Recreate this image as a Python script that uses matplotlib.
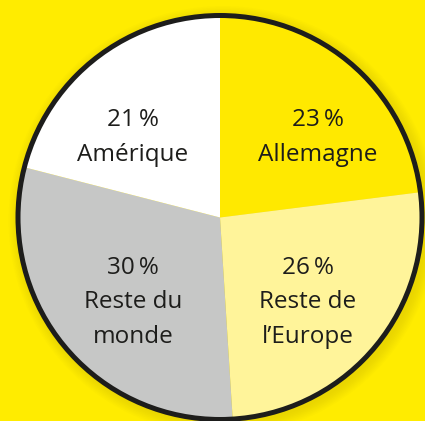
import numpy as np
import matplotlib
matplotlib.use("Agg")
import matplotlib.pyplot as plt
from matplotlib.patches import Circle

plt.rcParams['font.family'] = ['Open Sans', 'DejaVu Sans']

# data
regions = ["Allemagne", "Reste de\nl\u2019Europe", "Reste du\nmonde", "Am\u00e9rique"]
shares = [23, 26, 30, 21]

# style / layout
colors = ["#FFE900", "#FFF49A", "#C6C7C6", "#FFFFFF"]
bg = "#FFEC00"
ink = "#1D1D1B"
cx, cy, rad = 220, 421 - 217.5, 202
# label anchors (pixels, relative to pie centre)
label_pos = [(98, 80), (88, -85), (-87, -85), (-87, 80)]

fig = plt.figure(figsize=(4.25, 4.21), dpi=100)
fig.patch.set_facecolor(bg)
ax = fig.add_axes([0, 0, 1, 1])
ax.set_facecolor(bg)

# soft shadow
for k in range(8):
    ax.add_patch(Circle((cx + 3, cy - 3), rad + 2 + k * 1.5, color="#B8A400",
                        alpha=0.035, lw=0, zorder=0))

wedges, _ = ax.pie(shares, colors=colors, startangle=90, counterclock=False,
                   radius=rad, center=(cx, cy), frame=True,
                   wedgeprops=dict(linewidth=0, edgecolor="none"))
ax.set_xlim(0, 425)
ax.set_ylim(0, 421)
ax.set_aspect("equal")
ax.axis("off")

ax.add_patch(Circle((cx, cy), rad, fill=False, edgecolor=ink, lw=3.6, zorder=5))

for share, name, (dx, dy) in zip(shares, regions, label_pos):
    ax.text(cx + dx, cy + dy, "%d\u2009%%\n%s" % (share, name), ha="center",
            va="center", fontsize=17.5, color=ink, linespacing=1.6, zorder=6)

fig.savefig("out.png", dpi=100, facecolor=bg)
